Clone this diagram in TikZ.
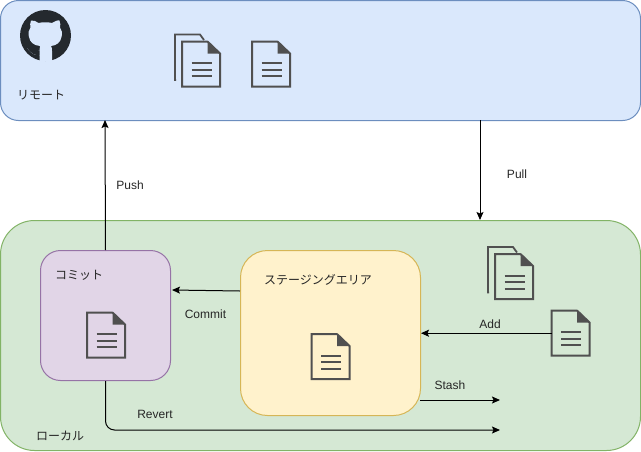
\documentclass[tikz,border=0pt]{standalone}
\usepackage{fontspec}
\setmainfont{Liberation Sans}
\newfontfamily\cjk{Noto Sans CJK JP}
\usetikzlibrary{arrows.meta}
\definecolor{iconc}{HTML}{505050}
\definecolor{ghc}{HTML}{24292E}
\definecolor{bluefill}{HTML}{DAE8FC}
\definecolor{blueline}{HTML}{6C8EBF}
\definecolor{greenfill}{HTML}{D5E8D4}
\definecolor{greenline}{HTML}{82B366}
\definecolor{purplefill}{HTML}{E1D5E7}
\definecolor{purpleline}{HTML}{9673A6}
\definecolor{yellowfill}{HTML}{FFF2CC}
\definecolor{yellowline}{HTML}{D6B656}
\tikzset{
  panel/.style={draw=#1,line width=1pt,inner sep=0pt,anchor=north west},
  flow/.style={draw=black,line width=1pt,-{Stealth[length=8pt,width=7pt,inset=1.5pt]}},
  lbl/.style={font=\fontsize{12}{14}\selectfont,text=black!85,inner sep=0pt},
  jp/.style={font=\cjk\fontsize{12}{14}\selectfont,text=black!85,inner sep=0pt},
  docbox/.style={inner sep=0pt,minimum width=38pt,minimum height=45pt,anchor=north west},
  docline/.style={draw=iconc,line width=2pt},
  pics/docicon/.style={code={
    \path[fill=iconc] (25.5,0) -- (38,12) -- (25.5,12) -- cycle;
    \draw[docline,line join=miter] (25.5,0) -- (0,0) -- (0,45) -- (38,45) -- (38,12) -- (25.5,0);
    \draw[docline] (9.5,21.5) -- (29.5,21.5) (9.5,28) -- (29.5,28) (9.5,34.5) -- (29.5,34.5);
  }},
  pics/docback/.style={code={
    \draw[docline,line width=1.8pt] (-6,38.5) -- (-7,38.5) -- (-7,-7) -- (18,-7) -- (22,-1.5);
  }},
}
\begin{document}
\begin{tikzpicture}[x=1pt,y=-1pt]
\useasboundingbox (0,0) rectangle (641,451);
\node[panel=blueline,fill=bluefill,rounded corners=18pt,minimum width=640pt,minimum height=120pt] (remote) at (0,0) {};
\node[panel=greenline,fill=greenfill,rounded corners=34pt,minimum width=640pt,minimum height=230pt] (local) at (0,220) {};
\node[panel=purpleline,fill=purplefill,rounded corners=20pt,minimum width=130pt,minimum height=130pt] (commit) at (40,250) {};
\node[panel=yellowline,fill=yellowfill,rounded corners=27pt,minimum width=180pt,minimum height=165pt] (stage) at (240,250) {};

% GitHub mark
\node[circle,fill=ghc,minimum size=51pt,inner sep=0pt] (github) at (45.5,35.5) {};
\fill[bluefill]
  (31,20.5) .. controls (33.5,20) and (36.5,21.5) .. (38.5,23)
  .. controls (42.5,22) and (48,22) .. (52,23)
  .. controls (54,21.5) and (57.5,20) .. (59.5,20.5)
  .. controls (60.5,23) and (60.5,25.5) .. (60,27.5)
  .. controls (62,30) and (62.5,33) .. (61.5,37)
  .. controls (60.5,42.5) and (56.5,45.5) .. (51,46)
  .. controls (52,47.5) and (52,49) .. (52,51)
  -- (52,61) -- (39.5,61) -- (39.5,55)
  .. controls (35,55.5) and (31,54) .. (27,47.5)
  .. controls (31,49) and (33,51) .. (39.5,50.5)
  .. controls (39.5,48.5) and (39.5,47.5) .. (40,46)
  .. controls (34,45.5) and (30,42.5) .. (29,37)
  .. controls (28,33) and (28.5,30) .. (30.5,27.5)
  .. controls (30,25.5) and (30,23) .. (31,20.5) -- cycle;
\fill[ghc] (27,44) .. controls (29,47) and (31,48.5) .. (39.5,50.5)
  -- (39.5,55) .. controls (35,55.5) and (31,54) .. (27,47.5) -- cycle;

% document icons
\pic at (182,41.5) {docback};
\node[docbox] (rdoca) at (182,41.5) {};
\pic at (rdoca.north west) {docicon};
\node[docbox] (rdocb) at (252,41.5) {};
\pic at (rdocb.north west) {docicon};
\pic at (495,254) {docback};
\node[docbox] (ldoca) at (495,254) {};
\pic at (ldoca.north west) {docicon};
\node[docbox] (adddoc) at (551.5,310.5) {};
\pic at (adddoc.north west) {docicon};
\node[docbox] (commitdoc) at (87,312.5) {};
\pic at (commitdoc.north west) {docicon};
\node[docbox] (stagedoc) at (311.5,334) {};
\pic at (stagedoc.north west) {docicon};

% labels
\node[jp,anchor=west] (remotelbl) at (17,95) {リモート};
\node[jp,anchor=west] (commitlbl) at (55,275) {コミット};
\node[jp,anchor=west] (stagelbl) at (264,280) {ステージングエリア};
\node[jp,anchor=west] (locallbl) at (36,436) {ローカル};

% connectors
\coordinate (pullstart) at (480,120);
\coordinate (pullend) at (480,220);
\coordinate (commitout) at (240,291);
\coordinate (commitin) at (172,290);
\coordinate (stashstart) at (420,400);
\coordinate (stashend) at (500,400);
\coordinate (revertend) at (500,430);
\coordinate (pushend) at (105,120);
\draw[flow] (commit.north) -- (pushend);
\draw[flow] (pullstart) -- (pullend);
\draw[flow] (commitout) -- (commitin);
\draw[flow] (adddoc.west) -- (stage.east |- adddoc.west);
\draw[flow] (stashstart) -- (stashend);
\draw[flow,rounded corners=9pt] (commit.south) -- (commit.south |- revertend) -- (revertend);

\node[lbl] (pushlbl) at (130,185) {Push};
\node[lbl] (pulllbl) at (517,174.5) {Pull};
\node[lbl] (commitarrowlbl) at (205.5,314.5) {Commit};
\node[lbl] (addlbl) at (490,324) {Add};
\node[lbl] (stashlbl) at (450,385) {Stash};
\node[lbl] (revertlbl) at (155,414.5) {Revert};
\end{tikzpicture}
\end{document}
